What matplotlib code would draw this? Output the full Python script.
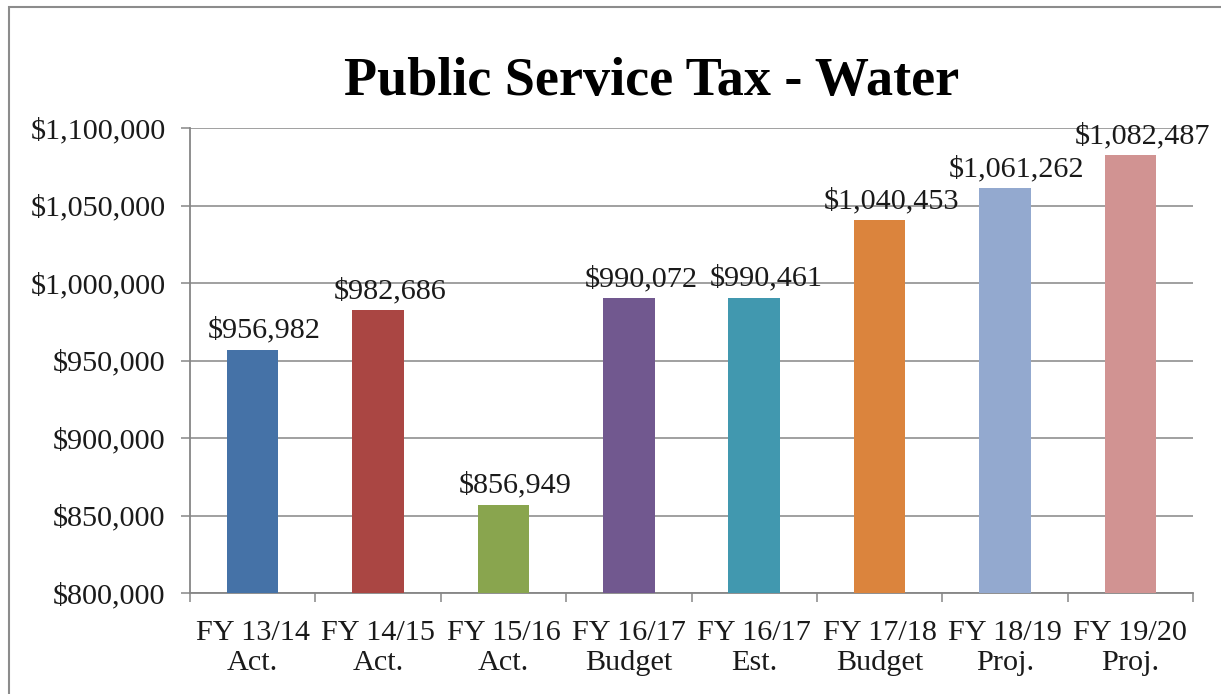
import numpy as np
import matplotlib.pyplot as plt
from matplotlib.patches import Rectangle
from matplotlib.ticker import FuncFormatter

categories = ["FY 13/14\nAct.", "FY 14/15\nAct.", "FY 15/16\nAct.", "FY 16/17\nBudget",
              "FY 16/17\nEst.", "FY 17/18\nBudget", "FY 18/19\nProj.", "FY 19/20\nProj."]
values = [956982, 982686, 856949, 990072, 990461, 1040453, 1061262, 1082487]
colors = ["#4572A7", "#AA4643", "#89A54E", "#71588F", "#4198AF", "#DB843D", "#93A9CF", "#D19392"]

plt.rcParams["font.family"] = ["Liberation Serif", "DejaVu Serif"]
grid_col = "#868686"
text_col = "#1a1a1a"
fs = 21.8

fig = plt.figure(figsize=(12.21, 6.94), dpi=100)
ax = fig.add_axes([190 / 1221, 1 - 593 / 694, (1193 - 190) / 1221, (593 - 128) / 694])

# chart border
fig.patches.append(Rectangle((9 / 1221, -0.1), 1.2, 1 - 7 / 694 + 0.1, transform=fig.transFigure,
                             fill=False, edgecolor="#8c8c8c", linewidth=1.5))

x = np.arange(len(values))
ax.bar(x, values, width=0.41, color=colors, zorder=3)

# labels sit a little right of bar centre, as in the original
for xi, v in zip(x, values):
    ax.annotate(f"${v:,}", (xi, v), xytext=(8.6, 8.6), textcoords="offset points",
                ha="center", va="baseline", fontsize=fs, color=text_col)

ax.set_ylim(800000, 1100000)
ax.set_yticks(np.arange(800000, 1100001, 50000))
ax.yaxis.set_major_formatter(FuncFormatter(lambda v, p: f"${int(v):,}"))
ax.set_xlim(-0.5, len(values) - 0.5)
ax.set_xticks(x)
ax.set_xticklabels(categories, linespacing=1.2)
ax.set_xticks(np.arange(-0.5, len(values)), minor=True)

ax.grid(axis="y", color=grid_col, linewidth=1.1, zorder=0)
ax.set_axisbelow(True)
for s in ["top", "right"]:
    ax.spines[s].set_visible(False)
for s in ["left", "bottom"]:
    ax.spines[s].set_color(grid_col)
    ax.spines[s].set_linewidth(1.3)

ax.tick_params(axis="y", length=6.5, width=1.1, color=grid_col, pad=11, labelsize=fs, labelcolor=text_col)
ax.tick_params(axis="x", which="major", length=0, pad=19.5, labelsize=fs, labelcolor=text_col)
ax.tick_params(axis="x", which="minor", length=6.5, width=1.1, color=grid_col)

fig.text(651.5 / 1221, 1 - 95 / 694, "Public Service Tax - Water", ha="center", va="baseline",
         fontsize=39, fontweight="bold", color="black")

fig.savefig("out.png", dpi=100)
